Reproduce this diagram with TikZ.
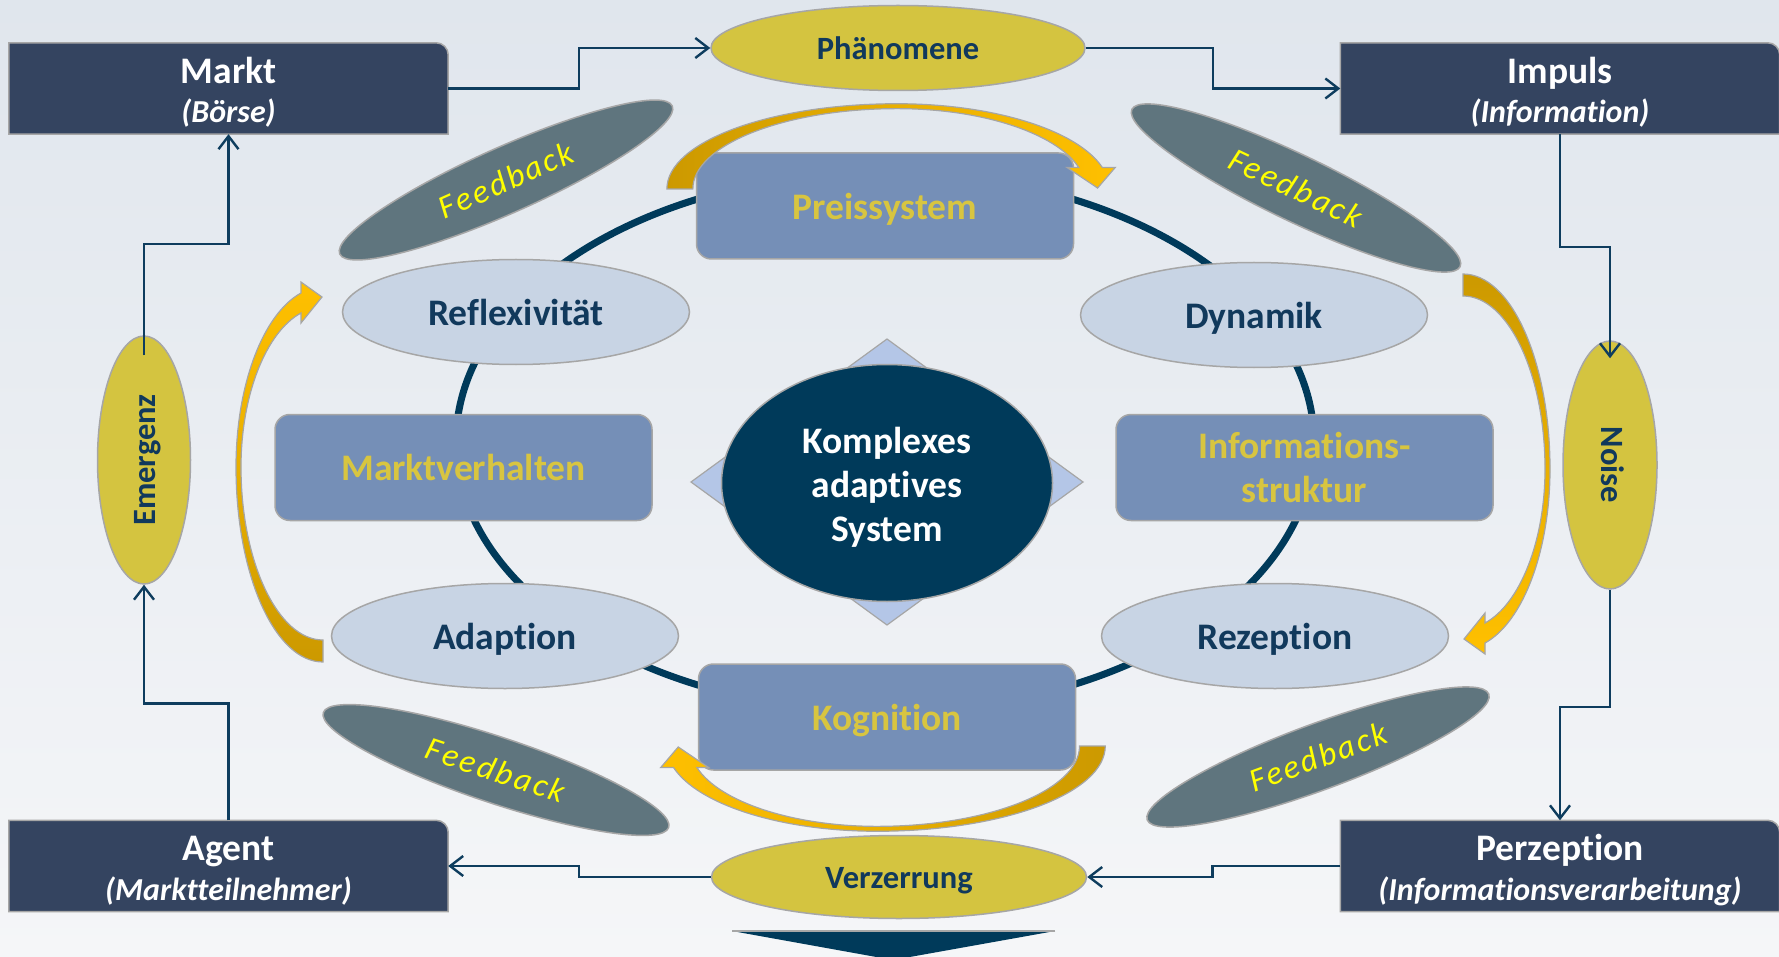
\documentclass[tikz,border=0pt]{standalone}
\usepackage{fontspec}
\setmainfont[Ligatures=NoCommon]{Carlito}
\newfontfamily\fbfont[LetterSpace=8,Ligatures=NoCommon]{Carlito}
\usetikzlibrary{shapes.geometric,arrows.meta,calc}
\pgfdeclarelayer{sky}
\pgfdeclarelayer{back}
\pgfsetlayers{sky,back,main}
\definecolor{navy}{HTML}{003A5A}
\definecolor{connc}{HTML}{0E3D5E}
\definecolor{boxdark}{HTML}{344460}
\definecolor{boxmid}{HTML}{758FB7}
\definecolor{gold}{HTML}{D8C540}
\definecolor{ellfill}{HTML}{C8D4E4}
\definecolor{yell}{HTML}{D4C440}
\definecolor{fbfill}{HTML}{5F757E}
\definecolor{diam}{HTML}{B4C6E7}
\definecolor{txtnavy}{HTML}{11395C}
\definecolor{edge}{HTML}{A6A6A6}
\definecolor{arrbright}{HTML}{FFC000}
\definecolor{arrdark}{HTML}{CC9900}
\definecolor{fbtext}{HTML}{FFFF00}
\definecolor{skytop}{HTML}{E0E6ED}
\definecolor{skybot}{HTML}{F5F6F8}
\newcommand\darkshape[1]{\begin{pgfonlayer}{back}\draw[boxshape] (#1.south west) -- (#1.north west) -- ([xshift=-12pt]#1.north east) arc[start angle=90,end angle=0,radius=12pt] -- (#1.south east) -- cycle;\end{pgfonlayer}}
\begin{document}
\begin{tikzpicture}[x=1pt,y=-1pt,
  conn/.style={draw=connc, line width=2.4pt, -{Straight Barb[length=13pt,width=20pt]}},
  darkbox/.style={minimum width=439pt, minimum height=91pt, inner sep=0pt},
  boxtitle/.style={inner sep=0pt, text=white, font=\fontsize{37.5}{42}\selectfont\bfseries, text height=30pt, text depth=3.4pt},
  boxsub/.style={inner sep=0pt, text=white, font=\fontsize{32}{38}\selectfont\bfseries\itshape, text height=26pt, text depth=3pt},
  boxshape/.style={fill=boxdark, draw=edge, line width=1.5pt},
  midbox/.style={rectangle, rounded corners=15pt, fill=boxmid, draw=edge, line width=1.5pt, minimum width=377pt, minimum height=106pt, inner sep=0pt, align=center, text=gold, font=\fontsize{37.5}{44}\selectfont\bfseries},
  oneline/.style={text height=30pt, text depth=3.4pt},
  lightell/.style={ellipse, fill=ellfill, draw=edge, line width=1.5pt, minimum width=347pt, minimum height=105pt, inner sep=0pt, text=txtnavy, font=\fontsize{37.5}{42}\selectfont\bfseries, oneline},
  yellell/.style={ellipse, fill=yell, draw=edge, line width=1.5pt, inner sep=0pt, text=txtnavy, font=\fontsize{32.5}{38}\selectfont\bfseries, text height=26pt, text depth=3pt},
  fbell/.style={ellipse, fill=fbfill, draw=edge, line width=1.5pt, minimum width=364pt, minimum height=66pt, inner sep=0pt, text=fbtext, font=\fontsize{33}{36}\fbfont\itshape},
  yarrow/.style={draw=edge, line width=1.2pt},
  yshape/.style={insert path={(0,184) .. controls (-48,184) and (-87,97) .. (-87,-11) .. controls (-87,-93) and (-60,-164) .. (-22,-185) -- (-22,-196) -- (-1,-181) -- (-22,-155) -- (-22,-165) .. controls (-57,-146) and (-82,-83) .. (-82,-11) .. controls (-82,84) and (-45,162) .. (0,162) -- cycle}}
]
\useasboundingbox (0,0) rectangle (1779,957);
\begin{pgfonlayer}{sky}
\shade[top color=skytop, bottom color=skybot] (0,0) rectangle (1779,957);
\end{pgfonlayer}

% ring
\draw[navy, line width=7pt] (885,442) ellipse [x radius=429pt, y radius=270pt];

% feedback ellipses
\node[fbell, rotate=24] (fb1) at (506,180) {Feedback};
\node[fbell, rotate=-25.6] (fb2) at (1296,188) {Feedback};
\node[fbell, rotate=-18.4] (fb3) at (496,770) {Feedback};
\node[fbell, rotate=20.2] (fb4) at (1318,757) {Feedback};

% diamond and centre
\draw[fill=diam, draw=edge, line width=1.2pt] (887,339) -- (1083,482) -- (887,625) -- (691,482) -- cycle;
\node[ellipse, fill=navy, draw=edge, line width=1.5pt, minimum width=331pt, minimum height=237pt, inner sep=0pt] (cas) at (887,483) {};
\node[inner sep=0pt, align=center, text=white, font=\fontsize{37.5}{44}\selectfont\bfseries] (castext) at (887,487) {Komplexes\\adaptives\\System};

% light ellipses
\node[lightell] (refl) at (516,312) {Reflexivität};
\node[lightell] (dyn) at (1254,315) {Dynamik};
\node[lightell] (adap) at (505,636) {Adaption};
\node[lightell] (rez) at (1275,636) {Rezeption};

% middle boxes
\node[midbox, oneline] (preis) at (885,206) {Preissystem};
\node[midbox, oneline] (mverh) at (463.5,467.5) {Marktverhalten};
\node[midbox] (istr) at (1304.5,467.5) {Informations-\\struktur};
\node[midbox, oneline] (kogn) at (887,717) {Kognition};

% curved arrows
\begin{scope}[shift={(323,478)}]
\shade[yarrow, top color=arrbright, bottom color=arrdark, middle color=arrbright!55!arrdark] [yshape];
\end{scope}
\begin{scope}[shift={(1463,458)}, rotate=180]
\shade[yarrow, top color=arrdark, bottom color=arrbright, middle color=arrbright!55!arrdark] [yshape];
\end{scope}
\begin{scope}[shift={(884,189)}, rotate=-90, xscale=0.98, yscale=1.18]
\shade[yarrow, left color=arrdark, right color=arrbright, middle color=arrbright!55!arrdark] [yshape];
\end{scope}
\begin{scope}[shift={(890,746)}, rotate=90, xscale=0.98, yscale=1.17]
\shade[yarrow, left color=arrbright, right color=arrdark, middle color=arrbright!55!arrdark] [yshape];
\end{scope}

% outer boxes
\node[darkbox] (markt) at (228.5,88.5) {};
\node[darkbox] (impuls) at (1560,88.5) {};
\node[darkbox] (agent) at (228.5,866) {};
\node[darkbox] (perz) at (1560,866) {};
\darkshape{markt}
\darkshape{impuls}
\darkshape{agent}
\darkshape{perz}
\node[boxtitle] (markt-t) at (228.5,70) {Markt};
\node[boxsub] (markt-s) at (228.5,111) {(Börse)};
\node[boxtitle] (impuls-t) at (1560,70) {Impuls};
\node[boxsub] (impuls-s) at (1560,111) {(Information)};
\node[boxtitle] (agent-t) at (228.5,847.5) {Agent};
\node[boxsub] (agent-s) at (228.5,888.5) {(Marktteilnehmer)};
\node[boxtitle] (perz-t) at (1560,847.5) {Perzeption};
\node[boxsub] (perz-s) at (1560,888.5) {(Informationsverarbeitung)};

% yellow ellipses
\node[yellell, minimum width=374pt, minimum height=85pt] (phen) at (898,48) {Phänomene};
\node[yellell, minimum width=375pt, minimum height=83pt] (verz) at (899,877) {Verzerrung};
\node[yellell, rotate=90, minimum width=248pt, minimum height=93pt] (emerg) at (144,460) {Emergenz};
\node[yellell, rotate=-90, minimum width=248pt, minimum height=94pt, text height=20pt] (noise) at (1610,465) {Noise};

% connectors
\draw[conn] (markt.east) -- ++(131,0) |- (phen.west);
\draw[conn] (phen.east) -- ++(127,0) |- (impuls.west);
\draw[conn] (impuls.south) -- ++(0,113) -| ($(noise.west)+(0,18)$);
\draw[conn] (noise.east) -- ++(0,117) -| (perz.north);
\draw[conn] (perz.west) -- ++(-128,0) |- (verz.east);
\draw[conn] (verz.west) -- ++(-132,0) |- (agent.east);
\draw[conn] (agent.north) -- ++(0,-117) -| (emerg.west);
\draw[conn] ($(emerg.east)+(0,20)$) -- ++(0,-111) -| (markt.south);

% bottom triangle
\fill[navy] (732,931) -- (1055,931) -- (893,960) -- cycle;
\draw[edge, line width=1.2pt] (732,931) -- (1055,931);
\end{tikzpicture}
\end{document}
